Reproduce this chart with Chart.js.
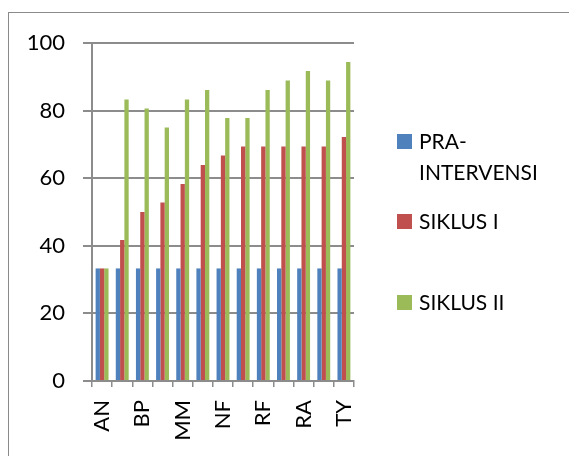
<!DOCTYPE html>
<html>
<head>
<meta charset="utf-8">
<script src="https://cdn.jsdelivr.net/npm/chart.js@4"></script>
<style>
  html, body { margin: 0; background: #fff; overflow: hidden; }
  #wrap { position: relative; width: 569px; height: 456px; overflow: hidden; }
  #frame { position: absolute; left: 8px; top: 12px; width: 561px; height: 444px; border-left: 1.5px solid #8a8a8a; border-top: 1.5px solid #8a8a8a; box-sizing: border-box; }
  #myChart { position: absolute; left: 0; top: 0; }
  .item { position: absolute; left: 397px; font-family: Lato, sans-serif; font-size: 21px; color: #000; line-height: 31px; }
  .item span.box { position: absolute; left: 0; top: 1px; width: 15px; height: 15px; }
  .item div.txt { position: absolute; left: 22px; top: -8px; width: 140px; }
</style>
</head>
<body>
<div id="wrap">
  <div id="frame"></div>
  <canvas id="myChart" width="569" height="456"></canvas>
  <div id="legend"></div>
</div>
<script>
var students = ['AN', '', 'BP', '', 'MM', '', 'NF', '', 'RF', '', 'RA', '', 'TY'];
var praIntervensi = [33.3, 33.3, 33.3, 33.3, 33.3, 33.3, 33.3, 33.3, 33.3, 33.3, 33.3, 33.3, 33.3];
var siklus1 = [33.3, 41.7, 50, 52.8, 58.3, 63.9, 66.7, 69.4, 69.4, 69.4, 69.4, 69.4, 72.2];
var siklus2 = [33.3, 83.3, 80.6, 75, 83.3, 86.1, 77.8, 77.8, 86.1, 88.9, 91.7, 88.9, 94.4];
var yTicks = [0, 20, 40, 60, 80, 100];

var seriesNames = ['PRA-INTERVENSI', 'SIKLUS I', 'SIKLUS II'];
var colors = ['#4F81BD', '#C0504D', '#9BBB59'];
var legendTops = [133, 213, 294];

var gridColor = '#8c8c8c';

var ctx = document.getElementById('myChart');
var myChart = new Chart(ctx, {
    type: 'bar',
    data: {
        labels: students,
        datasets: [
            { label: seriesNames[0], data: praIntervensi, backgroundColor: colors[0] },
            { label: seriesNames[1], data: siklus1, backgroundColor: colors[1] },
            { label: seriesNames[2], data: siklus2, backgroundColor: colors[2] }
        ]
    },
    options: {
        responsive: false,
        animation: false,
        events: [],
        datasets: { bar: { categoryPercentage: 0.64, barPercentage: 1 } },
        layout: { padding: { left: 9, top: 43, right: 215, bottom: 0 } },
        plugins: { legend: { display: false }, tooltip: { enabled: false } },
        scales: {
            x: {
                afterFit: function(s) { s.height = 75; },
                grid: { drawOnChartArea: false, drawTicks: true, tickLength: 6, color: gridColor, lineWidth: 1.5, offset: true },
                border: { color: gridColor, width: 2 },
                ticks: {
                    autoSkip: false, minRotation: 90, maxRotation: 90, padding: 13,
                    color: '#000', font: { family: 'Lato', size: 22 }
                }
            },
            y: {
                min: 0, max: 100,
                afterFit: function(s) { s.width = 83; },
                afterBuildTicks: function(s) { s.ticks = yTicks.map(function(v) { return { value: v }; }); },
                grid: { color: gridColor, lineWidth: 2, tickLength: 9 },
                border: { color: gridColor, width: 2 },
                ticks: { padding: 18, color: '#000', font: { family: 'Lato', size: 22 } }
            }
        }
    }
});

// legend on the right, Excel style
var legend = document.getElementById('legend');
seriesNames.forEach(function(name, i) {
    var item = document.createElement('div');
    item.className = 'item';
    item.style.top = legendTops[i] + 'px';
    var box = document.createElement('span');
    box.className = 'box';
    box.style.background = colors[i];
    var txt = document.createElement('div');
    txt.className = 'txt';
    txt.textContent = name;
    item.appendChild(box);
    item.appendChild(txt);
    legend.appendChild(item);
});
</script>
</body>
</html>
